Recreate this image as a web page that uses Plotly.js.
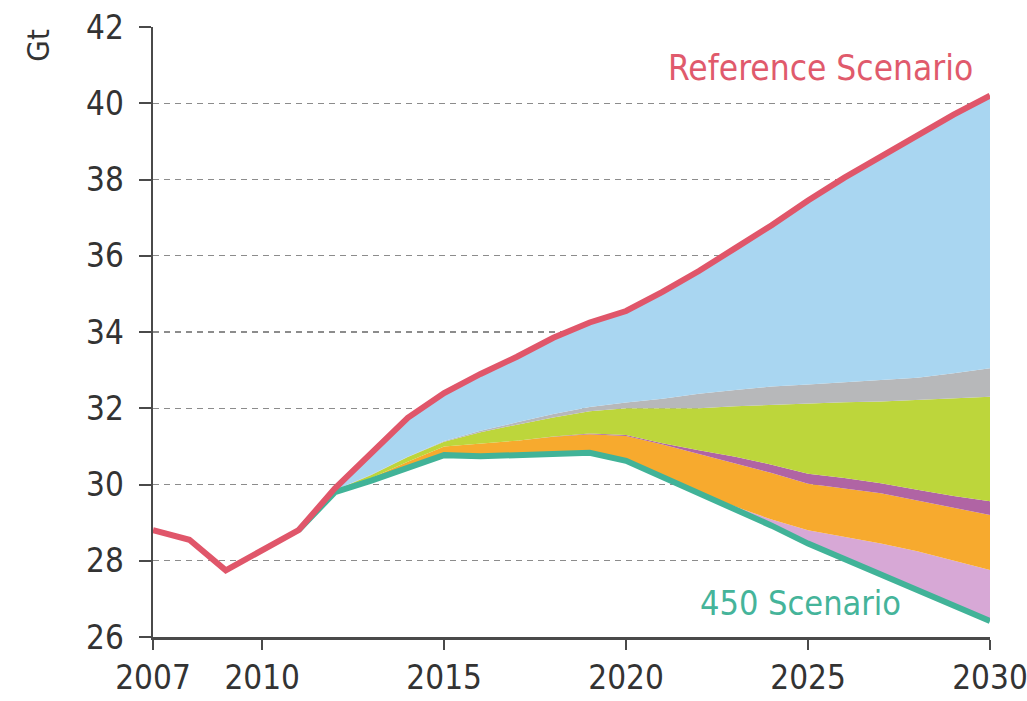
<!DOCTYPE html>
<html>
<head>
<meta charset="utf-8">
<script src="https://cdn.plot.ly/plotly-3.0.1.min.js"></script>
<style>
  html, body { margin: 0; padding: 0; background: #ffffff; }
  #chart { width: 1027px; height: 701px; }
</style>
</head>
<body>
<div id="chart"></div>
<script>
// ---- Data (Gt CO2) ----
var years = [2007, 2008, 2009, 2010, 2011, 2012, 2013, 2014, 2015, 2016, 2017, 2018,
             2019, 2020, 2021, 2022, 2023, 2024, 2025, 2026, 2027, 2028, 2029, 2030];

// Reference Scenario emissions
var referenceScenario = [28.8, 28.55, 27.75, 28.28, 28.8, 29.9, 30.85, 31.75, 32.4, 32.9, 33.35, 33.85,
                         34.25, 34.55, 35.05, 35.6, 36.2, 36.8, 37.45, 38.05, 38.6, 39.15, 39.7, 40.2];

// 450 Scenario emissions (from 2011)
var scenarioYears = [2011, 2012, 2013, 2014, 2015, 2016, 2017, 2018, 2019, 2020,
                     2021, 2022, 2023, 2024, 2025, 2026, 2027, 2028, 2029, 2030];
var scenario450 = [28.8, 29.8, 30.1, 30.45, 30.77, 30.74, 30.77, 30.81, 30.83, 30.62,
                   30.2, 29.75, 29.34, 28.92, 28.45, 28.05, 27.65, 27.25, 26.85, 26.42];

// Abatement wedges stacked above the 450 Scenario (Gt), bottom to top
var wedgePink   = [0, 0, 0, 0, 0, 0, 0, 0, 0, 0, 0, 0.03, 0.08, 0.16, 0.35, 0.58, 0.8, 1.0, 1.15, 1.34];
var wedgeOrange = [0, 0.02, 0.07, 0.15, 0.23, 0.33, 0.38, 0.44, 0.49, 0.65, 0.85, 1.02, 1.13, 1.22, 1.22, 1.27, 1.32, 1.33, 1.4, 1.44];
var wedgePurple = [0, 0, 0, 0, 0, 0, 0, 0.01, 0.02, 0.03, 0.03, 0.1, 0.18, 0.22, 0.26, 0.27, 0.26, 0.28, 0.3, 0.36];
var wedgeGreen  = [0, 0.03, 0.08, 0.12, 0.12, 0.3, 0.42, 0.5, 0.58, 0.7, 0.92, 1.1, 1.32, 1.57, 1.85, 1.99, 2.15, 2.36, 2.56, 2.74];
var wedgeGray   = [0, 0, 0.01, 0.01, 0.02, 0.04, 0.06, 0.09, 0.11, 0.15, 0.25, 0.38, 0.43, 0.48, 0.49, 0.52, 0.55, 0.58, 0.66, 0.75];

var xTickVals = [2007, 2010, 2015, 2020, 2025, 2030];
var yTickVals = [26, 28, 30, 32, 34, 36, 38, 40, 42];

var labelReference = "Reference Scenario";
var label450 = "450 Scenario";
var unitLabel = "Gt";

// ---- Build stacked boundaries ----
var wedges = [
  {vals: wedgePink,   color: "#d7a8d6"},
  {vals: wedgeOrange, color: "#f7aa2e"},
  {vals: wedgePurple, color: "#b064a4"},
  {vals: wedgeGreen,  color: "#bdd63b"},
  {vals: wedgeGray,   color: "#b7b8ba"}
];

var traces = [];
var running = scenario450.slice();
traces.push({x: scenarioYears, y: running.slice(), mode: "lines", line: {width: 0},
             hoverinfo: "skip", showlegend: false});
wedges.forEach(function (w) {
  running = running.map(function (v, i) { return v + w.vals[i]; });
  traces.push({x: scenarioYears, y: running.slice(), mode: "lines", line: {width: 0},
               fill: "tonexty", fillcolor: w.color, hoverinfo: "skip", showlegend: false});
});
var offset = years.indexOf(scenarioYears[0]);
var refTail = referenceScenario.slice(offset);
traces.push({x: scenarioYears, y: refTail, mode: "lines", line: {width: 0},
             fill: "tonexty", fillcolor: "#a9d6f1", hoverinfo: "skip", showlegend: false});

traces.push({x: scenarioYears, y: scenario450, mode: "lines",
             line: {color: "#41b398", width: 6}, showlegend: false});
traces.push({x: years, y: referenceScenario, mode: "lines",
             line: {color: "#e0566a", width: 6}, showlegend: false});

var fontFam = "'Liberation Sans Narrow', 'DejaVu Sans Condensed', 'Roboto Condensed', 'Arial Narrow', sans-serif";

var layout = {
  width: 1027, height: 701,
  margin: {l: 153, r: 37, t: 27, b: 64},
  paper_bgcolor: "#ffffff", plot_bgcolor: "#ffffff",
  font: {family: fontFam, color: "#333333", size: 33},
  showlegend: false,
  xaxis: {
    range: [2007, 2030], tickvals: xTickVals, ticktext: xTickVals.map(String),
    showgrid: false, zeroline: false,
    showline: true, linecolor: "#4a4a4a", linewidth: 2.5,
    ticks: "outside", ticklen: 10, tickwidth: 2, tickcolor: "#4a4a4a",
    tickfont: {family: fontFam, size: 33, color: "#333333"},
    ticklabeloverflow: "allow",
    fixedrange: true
  },
  yaxis: {
    range: [26, 42], tickvals: yTickVals, ticktext: yTickVals.map(String),
    showgrid: true, gridcolor: "#8c8c8c", gridwidth: 1.2, griddash: "6px,5px",
    zeroline: false,
    showline: true, linecolor: "#4a4a4a", linewidth: 2.5,
    ticks: "outside", ticklen: 12, tickwidth: 2, tickcolor: "#4a4a4a",
    tickfont: {family: fontFam, size: 33, color: "#333333"},
    ticklabelstandoff: 8,
    ticklabeloverflow: "allow",
    fixedrange: true
  },
  annotations: [
    {x: 2029.6, y: 40.92, xref: "x", yref: "y", text: labelReference, showarrow: false,
     xanchor: "right", yanchor: "middle",
     font: {family: fontFam, size: 35, color: "#e05a6c"}},
    {x: 2027.6, y: 26.9, xref: "x", yref: "y", text: label450, showarrow: false,
     xanchor: "right", yanchor: "middle",
     font: {family: fontFam, size: 34, color: "#45b49a"}},
    {x: -0.137, y: 0.97, xref: "paper", yref: "paper", text: unitLabel, showarrow: false,
     textangle: -90, xanchor: "center", yanchor: "middle",
     font: {family: fontFam, size: 31, color: "#333333"}}
  ]
};

Plotly.newPlot("chart", traces, layout, {displayModeBar: false, staticPlot: true});
</script>
</body>
</html>
